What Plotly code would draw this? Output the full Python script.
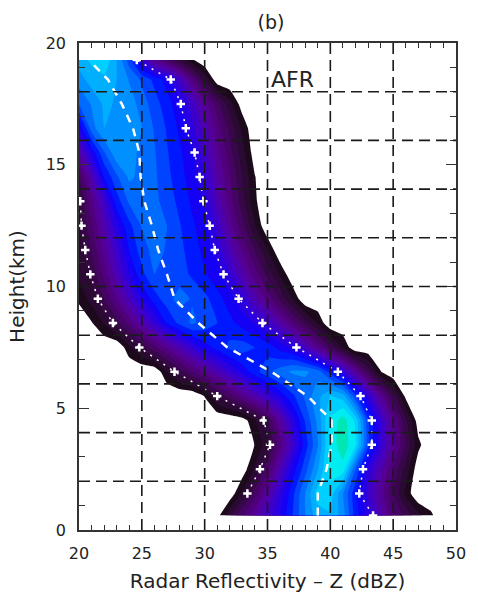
import plotly.graph_objects as go

# Reflectivity bins (dBZ) and height levels (km) of the CFAD frequency field
dbz = [20, 21, 22, 23, 24, 25, 26, 27, 28, 29, 30, 31, 32, 33, 34, 35,
       36, 37, 38, 39, 40, 41, 42, 43, 44, 45, 46, 47, 48, 49, 50]
height = [0.6, 1.5, 2.5, 3.5, 4.5, 5.5, 6.5, 7.5, 8.5, 9.5,
          10.5, 11.5, 12.5, 13.5, 14.5, 15.5, 16.5, 17.5, 18.5, 19.3]

# Frequency (in contour-level units): one row per height, one value per dBZ bin
freq = [
    [0, 0, 0, 0, 0, 0, 0, 0, 0, 0, 0, 0.56, 2.8, 5.0, 6.7, 8.4, 10.1, 12.0, 14.0, 15.6, 15.9, 14.5, 11.5, 9.7, 7.5, 5.0, 3.7, 2.3, 1.25, 0, 0],
    [0, 0, 0, 0, 0, 0, 0, 0, 0, 0, 0, 0, 0.2, 2.2, 4.45, 6.9, 9.3, 11.7, 14.0, 16.4, 16.5, 14.1, 11.3, 8.8, 6.5, 4.1, 1.7, 0, 0, 0, 0],
    [0, 0, 0, 0, 0, 0, 0, 0, 0, 0, 0, 0, 0, 0.33, 2.2, 4.7, 7.6, 10.4, 12.6, 14.9, 17.5, 17.6, 13.0, 9.6, 7.3, 4.9, 2.6, 0.3, 0, 0, 0],
    [0, 0, 0, 0, 0, 0, 0, 0, 0, 0, 0, 0, 0, 0, 1.05, 2.7, 5.5, 8.5, 11.5, 13.9, 17.4, 18.6, 17.2, 12.3, 9.2, 6.5, 3.9, 1.3, 0, 0, 0],
    [0, 0, 0, 0, 0, 0, 0, 0, 0, 0, 0, 0, 0, 0.38, 1.9, 3.9, 6.7, 9.6, 12.1, 14.3, 17.2, 18.5, 16.8, 12.2, 9.0, 6.1, 3.3, 0.4, 0, 0, 0],
    [0, 0, 0, 0, 0, 0, 0, 0, 0, 0, 1.05, 3.0, 4.45, 5.9, 7.4, 8.8, 10.3, 11.75, 13.25, 14.7, 16.0, 15.5, 12.3, 9.3, 6.4, 3.6, 0.7, 0, 0, 0, 0],
    [0, 0, 0, 0, 0, 0, 0.09, 1.9, 3.5, 4.9, 6.3, 7.6, 9.0, 10.3, 11.6, 12.7, 13.5, 14.2, 14.2, 13.5, 11.6, 9.4, 6.6, 3.8, 1.05, 0, 0, 0, 0, 0, 0],
    [0, 0, 0, 0, 1.7, 3.3, 4.7, 6.2, 7.6, 9.1, 10.5, 11.4, 12.3, 12.5, 12.0, 11.5, 10.6, 9.8, 8.1, 6.1, 4.0, 2.0, 0, 0, 0, 0, 0, 0, 0, 0, 0],
    [0, 0.9, 2.1, 3.6, 5.4, 7.3, 9.1, 11.0, 12.3, 13.2, 12.6, 12.0, 11.3, 10.6, 9.9, 8.8, 7.1, 5.3, 3.6, 1.9, 0, 0, 0, 0, 0, 0, 0, 0, 0, 0, 0],
    [1.3, 2.4, 4.0, 6.0, 8.0, 10.0, 11.5, 12.6, 13.4, 12.9, 12.3, 11.4, 10.5, 9.25, 7.4, 5.6, 3.8, 1.9, 0, 0, 0, 0, 0, 0, 0, 0, 0, 0, 0, 0, 0],
    [2.2, 3.2, 5.4, 7.7, 9.9, 11.7, 13.0, 12.9, 12.5, 11.8, 11.1, 10.4, 9.1, 7.3, 5.5, 3.7, 1.9, 0.1, 0, 0, 0, 0, 0, 0, 0, 0, 0, 0, 0, 0, 0],
    [2.4, 4.1, 6.4, 8.7, 11.0, 12.5, 13.4, 12.9, 12.3, 11.5, 10.7, 9.6, 7.7, 5.8, 3.9, 2.0, 0, 0, 0, 0, 0, 0, 0, 0, 0, 0, 0, 0, 0, 0, 0],
    [2.6, 4.9, 7.4, 9.8, 11.7, 13.1, 13.5, 13.0, 12.1, 11.2, 10.4, 8.7, 6.5, 4.3, 2.1, 0, 0, 0, 0, 0, 0, 0, 0, 0, 0, 0, 0, 0, 0, 0, 0],
    [2.8, 5.7, 8.6, 11.5, 13.2, 13.75, 13.25, 12.6, 11.7, 10.8, 9.8, 7.6, 5.5, 3.4, 1.2, 0, 0, 0, 0, 0, 0, 0, 0, 0, 0, 0, 0, 0, 0, 0, 0],
    [4.0, 7.5, 11.0, 12.8, 14.2, 13.7, 13.2, 12.3, 11.4, 10.5, 9.2, 7.1, 5.1, 3.0, 1.05, 0, 0, 0, 0, 0, 0, 0, 0, 0, 0, 0, 0, 0, 0, 0, 0],
    [7.0, 10.3, 12.9, 14.8, 14.3, 13.8, 13.1, 12.1, 11.2, 10.2, 8.4, 6.4, 4.4, 2.4, 0.4, 0, 0, 0, 0, 0, 0, 0, 0, 0, 0, 0, 0, 0, 0, 0, 0],
    [10.0, 13.5, 15.0, 14.9, 14.4, 14.0, 12.9, 11.9, 10.8, 9.4, 7.5, 5.6, 3.7, 1.8, 0, 0, 0, 0, 0, 0, 0, 0, 0, 0, 0, 0, 0, 0, 0, 0, 0],
    [13.0, 14.1, 15.2, 14.9, 14.6, 13.5, 12.5, 11.4, 10.4, 8.5, 6.5, 4.4, 2.4, 0.4, 0, 0, 0, 0, 0, 0, 0, 0, 0, 0, 0, 0, 0, 0, 0, 0, 0],
    [14.5, 15.5, 15.7, 15.0, 13.9, 12.8, 11.7, 10.6, 8.4, 5.6, 2.9, 0.2, 0, 0, 0, 0, 0, 0, 0, 0, 0, 0, 0, 0, 0, 0, 0, 0, 0, 0, 0],
    [15.5, 16.2, 16.9, 15.0, 12.5, 9.2, 6.2, 4.5, 2.8, 1.2, 0, 0, 0, 0, 0, 0, 0, 0, 0, 0, 0, 0, 0, 0, 0, 0, 0, 0, 0, 0, 0],
]

# Median profile (dashed)
median_h = height
median_dbz = [39.0, 39.0, 39.7, 40.1, 40.1, 38.2, 35.3, 31.8, 29.5, 27.6,
              27.0, 26.3, 25.8, 25.2, 24.9, 24.8, 24.3, 23.4, 22.3, 20.8]

# Lower and upper percentile profiles (crosses)
low_h = [1.5, 2.5, 3.5, 4.5, 5.5, 6.5, 7.5, 8.5, 9.5, 10.5, 11.5, 12.5, 13.5]
low_dbz = [33.4, 34.4, 35.2, 34.7, 31.0, 27.6, 24.8, 22.7, 21.5, 20.9, 20.5, 20.2, 20.1]
high_h = height
high_dbz = [43.4, 42.3, 42.6, 43.3, 43.3, 42.4, 40.6, 37.3, 34.6, 32.7,
            31.5, 30.8, 30.4, 29.9, 29.6, 29.2, 28.5, 28.1, 27.3, 24.6]

# Colour of each frequency band (first entry: below the lowest level)
band_colors = ['#ffffff',
               '#1c0a1c', '#2a0a32', '#38074a', '#450463', '#50007c', '#540096',
               '#4c00b0', '#3e00c8', '#2a00e0', '#1400f5', '#0018ff', '#0044ff',
               '#006cff', '#0090ff', '#00b0ff', '#00d0ff', '#00ecf0', '#00e6b4']

grid_x = [25, 30, 35, 40, 45]
grid_y = [2, 4, 6, 8, 10, 12, 14, 16, 18]

n_bands = len(band_colors) - 1
colorscale = [[i / n_bands, c] for i, c in enumerate(band_colors)]

fig = go.Figure()
fig.add_trace(go.Contour(
    x=dbz, y=height, z=freq,
    autocontour=False,
    contours=dict(start=1, end=n_bands, size=1, coloring='fill', showlines=False),
    colorscale=colorscale,
    line=dict(width=0, smoothing=0.35),
    showscale=False, hoverinfo='skip',
))

fig.add_trace(go.Scatter(
    x=median_dbz, y=median_h, mode='lines',
    line=dict(color='white', width=2.5, dash='8px,7px'),
    hoverinfo='skip',
))

cross = dict(symbol='cross-thin', size=6, color='white',
             line=dict(color='white', width=2.5))
for xs, ys in ((low_dbz, low_h), (high_dbz, high_h)):
    fig.add_trace(go.Scatter(
        x=xs, y=ys, mode='lines+markers',
        line=dict(color='white', width=1.5, dash='2px,6px'),
        marker=cross, hoverinfo='skip',
    ))

grid_line = dict(color='#1a1a1a', width=1.6, dash='11px,6px')
for gx in grid_x:
    fig.add_shape(type='line', xref='x', yref='paper', x0=gx, x1=gx, y0=0, y1=1,
                  line=grid_line, layer='above')
for gy in grid_y:
    fig.add_shape(type='line', xref='paper', yref='y', x0=0, x1=1, y0=gy, y1=gy,
                  line=grid_line, layer='above')

fig.add_annotation(x=37, y=18.5, xref='x', yref='y', text='AFR', showarrow=False,
                   font=dict(size=22, color='#222'))

axis_common = dict(
    showline=True, linecolor='#333', linewidth=1.5, mirror='ticks',
    ticks='inside', ticklen=10, tickwidth=1.3, tickcolor='#333',
    showgrid=False, zeroline=False, ticklabelstandoff=8,
    tickfont=dict(size=16, color='#222'),
)

fig.update_layout(
    width=478, height=601,
    margin=dict(l=79, r=15, t=43, b=70),
    paper_bgcolor='white', plot_bgcolor='white',
    showlegend=False,
    font=dict(family='DejaVu Sans', size=17, color='#222'),
    title=dict(text='(b)', x=0.567, xanchor='center', y=0.962, yanchor='middle',
               font=dict(size=19, color='#222')),
    xaxis=dict(range=[20, 50], dtick=5,
               minor=dict(dtick=1, ticks='inside', ticklen=5, tickwidth=1.2, tickcolor='#333'),
               title=dict(text='Radar Reflectivity – Z (dBZ)', standoff=12),
               **axis_common),
    yaxis=dict(range=[0, 20], dtick=5,
               minor=dict(dtick=1, ticks='inside', ticklen=6, tickwidth=1.2, tickcolor='#333'),
               title=dict(text='Height(km)', standoff=16),
               **axis_common),
)

fig.write_html('out.html')
